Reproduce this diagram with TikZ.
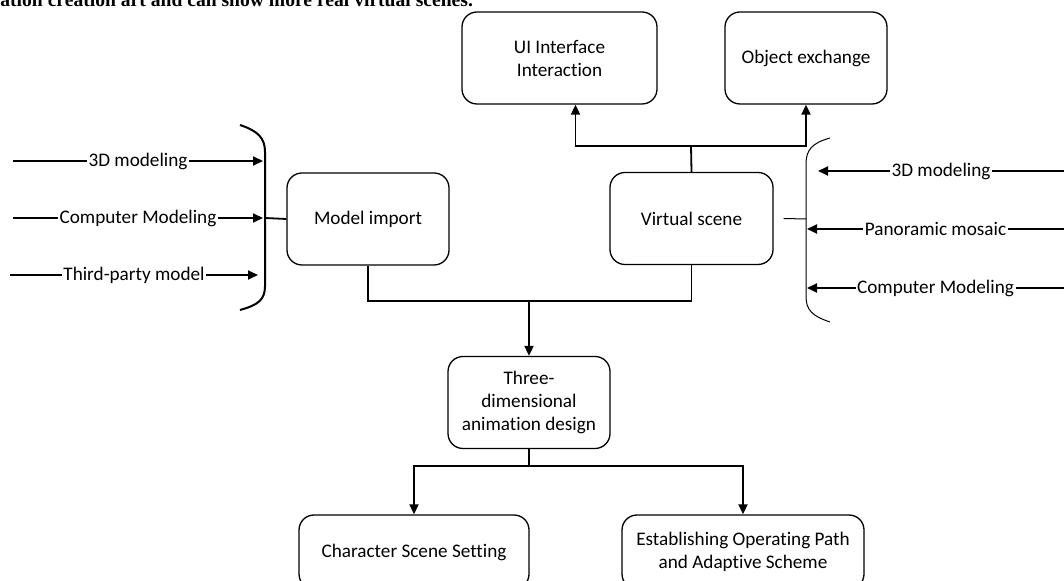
\documentclass[tikz,border=0pt]{standalone}
\usepackage{fontspec}
\setmainfont{Carlito}[Ligatures=NoCommon, Contextuals=NoAlternate]
\newfontfamily\paperfont{Liberation Serif}
\usetikzlibrary{arrows.meta,positioning}

\begin{document}
\begin{tikzpicture}[x=0.5pt,y=-0.5pt,
  box/.style={draw, line width=0.65pt, rounded corners=7.5pt, minimum height=46pt,
    inner sep=1pt, align=center, font=\fontsize{9.6}{11.5}\selectfont},
  arr/.style={line width=0.9pt, -{Triangle[length=5pt,width=4.5pt]}},
  link/.style={line width=0.9pt},
  lbl/.style={fill=white, inner sep=0.8pt, font=\fontsize{9.6}{11.5}\selectfont}]
\useasboundingbox (0,0) rectangle (1064,581);
\clip (0,0) rectangle (1064,581);

% running text of the page above the figure
\node[anchor=base west, inner sep=0pt, font=\paperfont\bfseries\fontsize{9.8}{12}\selectfont]
  (pagetext) at (0,7) {ation creation art and can show more real virtual scenes.};

% boxes
\node[box, minimum width=97.5pt] (ui) at (559.5,58) {UI Interface\\Interaction};
\node[box, minimum width=81pt] (obj) at (806,58) {Object exchange};
\node[box, minimum width=81pt] (model) at (368,219) {Model import};
\node[box, minimum width=81.5pt] (virt) at (691.5,218.5) {Virtual scene};
\node[box, minimum width=81pt] (three) at (529,402.5) {Three-\\dimensional\\animation design};
\node[box, minimum width=115pt, minimum height=37pt] (char) at (414,552) {Character Scene Setting};
\node[box, minimum width=121pt, minimum height=37pt] (est) at (743,552)
  {Establishing Operating Path\\and Adaptive Scheme};

% virtual scene -> top boxes
\coordinate (vsplit) at (691,146);
\draw[link] (virt.north) -- (vsplit);
\draw[arr] (vsplit) -| ([xshift=8pt]ui.south);
\draw[arr] (vsplit) -| (obj.south);

% model import + virtual scene -> animation design
\coordinate (msplit) at (529,301);
\draw[link] (model.south) |- (msplit) -| (virt.south);
\draw[arr] (msplit) -- (three.north);

% animation design -> bottom boxes
\coordinate (tsplit) at (529,466);
\draw[link] (three.south) -- (tsplit);
\draw[arr] (tsplit) -| (char.north);
\draw[arr] (tsplit) -| (est.north);

%Left bracket
\draw[line width=1pt] (240,125) .. controls (258,131) and (265,138) .. (265,152)
  -- (265,286) .. controls (265,300) and (258,305) .. (240,310);
\coordinate (lb) at (265,218);
\draw[link] (lb) -- (model.west);
\foreach \y/\txt/\tip/\from [count=\i] in {161/3D modeling/263/13,
    218/Computer Modeling/263/13, 275/Third-party model/258/10}{
  \coordinate (lin\i) at (\from,\y);
  \coordinate (lend\i) at (\tip,\y);
  \draw[arr] (lin\i) -- node[lbl] (llbl\i) {\txt} (lend\i);
}

%Right bracket
\draw[line width=0.5pt] (830,138) .. controls (812,143) and (806,150) .. (806,164)
  -- (806,296) .. controls (806,310) and (812,316) .. (830,322);
\coordinate (rb) at (806,219);
\draw[line width=0.5pt] ([xshift=5pt]virt.east) -- (rb);
\foreach \y/\txt/\tip [count=\i] in {171/3D modeling/818,
    229/Panoramic mosaic/807, 288/Computer Modeling/807}{
  \coordinate (rin\i) at (1064,\y);
  \coordinate (rend\i) at (\tip,\y);
  \draw[arr] (rin\i) -- node[lbl] (rlbl\i) {\txt} (rend\i);
}

\end{tikzpicture}
\end{document}
